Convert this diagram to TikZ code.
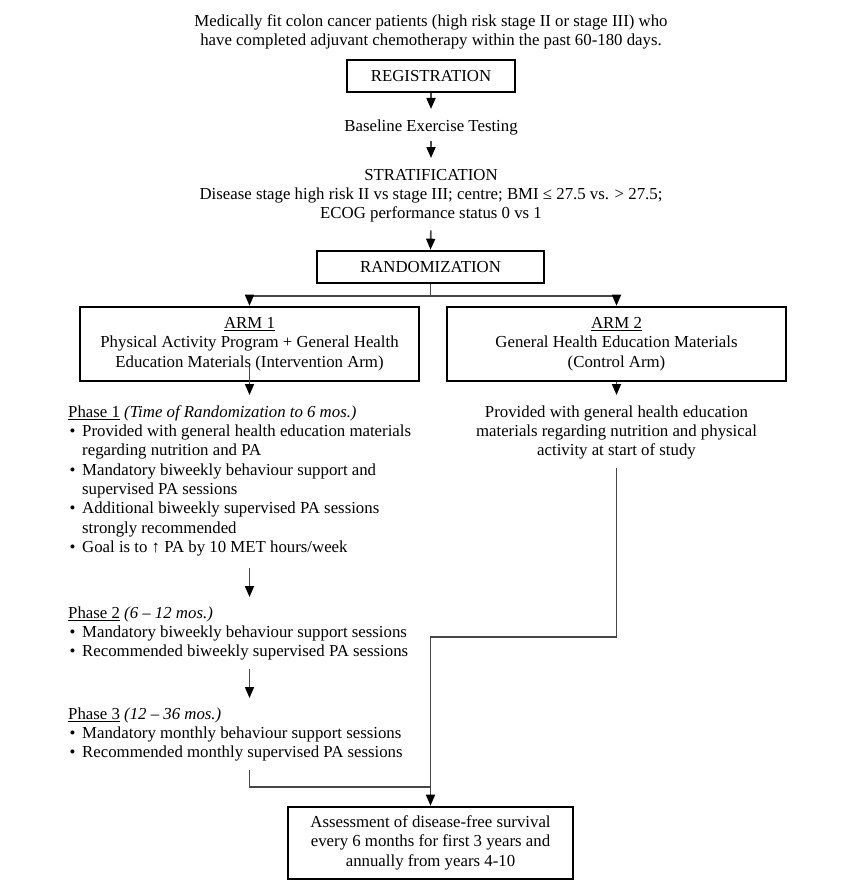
\documentclass[tikz,border=0pt]{standalone}
\usepackage{fontspec}
\setmainfont{Liberation Serif}
\usetikzlibrary{arrows.meta,calc}
\newcommand{\bul}{\makebox[14pt][l]{\hspace{1.5pt}\textbullet}}
\newcommand{\ind}{\makebox[14pt]{}}
\newcommand{\sr}{\strut}
\newcommand{\ul}[1]{\setbox0\hbox{#1}\rlap{\rule[-2.6pt]{\wd0}{1.1pt}}\box0\relax}
\begin{document}
\begin{tikzpicture}[x=1pt,y=-1pt,
  every node/.style={inner sep=0pt, font=\fontsize{16.8}{19.3}\selectfont},
  boxnode/.style={draw=black, line width=2.6pt, align=center, minimum height=32pt},
  txt/.style={align=center, anchor=north},
  lefttxt/.style={align=left, anchor=north west},
  line/.style={draw=black!72, line width=1.7pt},
  arr/.style={line, -{Triangle[width=9pt,length=11pt,color=black]}}]
\fill[white] (0,0) rectangle (863,888);
\useasboundingbox (0,0) rectangle (863,888);

\node[txt] (title) at (431,12.5) {\sr Medically fit colon cancer patients (high risk stage II or stage III) who\\\sr have completed adjuvant chemotherapy within the past 60-180 days.};
\node[boxnode, minimum width=168pt] (reg) at (431,76) {REGISTRATION};
\node[txt] (base) at (431,117.5) {\sr Baseline Exercise Testing};
\node[txt] (strat) at (431,166.5) {\sr STRATIFICATION\\\sr Disease stage high risk II vs stage III; centre; BMI ≤ 27.5 vs. > 27.5;\\\sr ECOG performance status 0 vs 1};
\node[boxnode, minimum width=227pt] (rand) at (430.5,267) {RANDOMIZATION};
\node[boxnode, minimum width=339pt, minimum height=74pt] (arm1) at (249.5,344) {\sr\ul{ARM 1}\\\sr Physical Activity Program + General Health\\\sr Education Materials (Intervention Arm)};
\node[boxnode, minimum width=339pt, minimum height=74pt] (arm2) at (616.5,344) {\sr\ul{ARM 2}\\\sr General Health Education Materials\\\sr (Control Arm)};
\node[lefttxt] (p1) at (68,403.5) {\sr\ul{Phase 1} \textit{(Time of Randomization to 6 mos.)}\\
\sr\bul Provided with general health education materials\\
\sr\ind regarding nutrition and PA\\
\sr\bul Mandatory biweekly behaviour support and\\
\sr\ind supervised PA sessions\\
\sr\bul Additional biweekly supervised PA sessions\\
\sr\ind strongly recommended\\
\sr\bul Goal is to ↑ PA by 10 MET hours/week};
\node[txt] (ctrl) at (616.5,403.5) {\sr Provided with general health education\\\sr materials regarding nutrition and physical\\\sr activity at start of study};
\node[lefttxt] (p2) at (68,604.5) {\sr\ul{Phase 2} \textit{(6 – 12 mos.)}\\
\sr\bul Mandatory biweekly behaviour support sessions\\
\sr\bul Recommended biweekly supervised PA sessions};
\node[lefttxt] (p3) at (68,705.5) {\sr\ul{Phase 3} \textit{(12 – 36 mos.)}\\
\sr\bul Mandatory monthly behaviour support sessions\\
\sr\bul Recommended monthly supervised PA sessions};
\node[boxnode, minimum width=285pt, minimum height=72pt] (assess) at (430.5,843) {\sr Assessment of disease-free survival\\\sr every 6 months for first 3 years and\\\sr annually from years 4-10};

\draw[arr, shorten >=8.5pt] (reg.south) -- (base.north);
\draw[arr, shorten <=4.2pt, shorten >=8.5pt] (base.south) -- (strat.north);
\draw[arr, shorten <=5.6pt] (strat.south) -- (rand.north);
\draw[line] (rand.south) -- ++(0,12) coordinate (split);
\draw[arr] (split) -| (arm1.north);
\draw[arr] (split) -| (arm2.north);
\draw[arr, shorten >=8.5pt] ([yshift=16pt]arm1.south) -- (arm1.south |- p1.north);
\draw[arr, shorten >=8.5pt] (arm2.south) -- (ctrl.north);
\draw[arr, shorten <=10pt, shorten >=7.5pt] (arm1.south |- p1.south) -- (arm1.south |- p2.north);
\draw[arr, shorten <=6.6pt, shorten >=7.5pt] (arm1.south |- p2.south) -- (arm1.south |- p3.north);
\coordinate (join) at ([yshift=19pt]assess.north);
\draw[line, shorten <=6.6pt] (arm1.south |- p3.south) |- (join);
\coordinate (elbow) at (assess.north |- 0,637);
\draw[arr, shorten <=6.6pt] (ctrl.south) |- (elbow) -- (assess.north);
\end{tikzpicture}
\end{document}
